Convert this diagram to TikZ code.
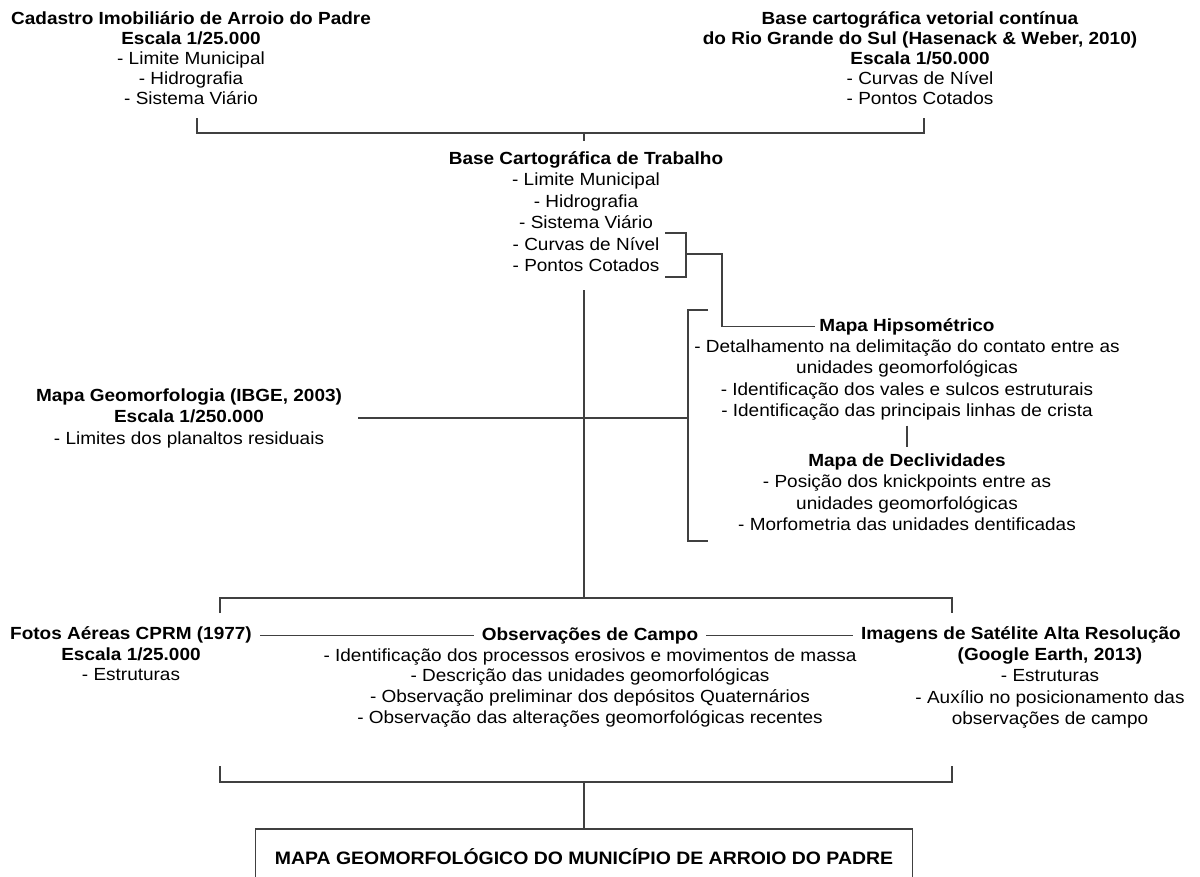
\documentclass[tikz,border=0pt]{standalone}
\usepackage{fontspec}
\setmainfont{Liberation Sans}[FakeStretch=1.08]

\begin{document}
\begin{tikzpicture}[x=0.025cm,y=-0.025cm,
  liga/.style={draw=black!75,line width=0.04cm},
  bloco/.style={align=center,anchor=north,inner sep=0pt,font=\fontsize{12.5}{15.3}\selectfont},
  topo/.style={bloco,font=\fontsize{12.5}{14.2}\selectfont},
  titulo/.style={bloco,font=\fontsize{12.5}{15.3}\selectfont\bfseries}]
  \useasboundingbox (0,0) rectangle (1200,876);

  % fontes de dados
  \node[topo] (cad) at (191,11) {\textbf{Cadastro Imobiliário de Arroio do Padre}\\\textbf{Escala 1/25.000}\\- Limite Municipal\\- Hidrografia\\- Sistema Viário};
  \node[topo] (rs) at (920,11) {\textbf{Base cartográfica vetorial contínua}\\\textbf{do Rio Grande do Sul (Hasenack \& Weber, 2010)}\\\textbf{Escala 1/50.000}\\- Curvas de Nível\\- Pontos Cotados};
  \node[bloco] (base) at (586,151) {\textbf{Base Cartográfica de Trabalho}\\- Limite Municipal\\- Hidrografia\\- Sistema Viário\\- Curvas de Nível\\- Pontos Cotados};

  \node[titulo] (hipso) at (907,318) {Mapa Hipsométrico};
  \node[bloco] (hipsoitens) at (907,339) {- Detalhamento na delimitação do contato entre as\\unidades geomorfológicas\\- Identificação dos vales e sulcos estruturais\\- Identificação das principais linhas de crista};
  \node[bloco] (geo) at (189,388) {\textbf{Mapa Geomorfologia (IBGE, 2003)}\\\textbf{Escala 1/250.000}\\- Limites dos planaltos residuais};
  \node[bloco] (decliv) at (907,453) {\textbf{Mapa de Declividades}\\- Posição dos knickpoints entre as\\unidades geomorfológicas\\- Morfometria das unidades dentificadas};

  \node[titulo] (fotos) at (131,626) {Fotos Aéreas CPRM (1977)\\Escala 1/25.000};
  \node[bloco] (fotositens) at (131,668) {- Estruturas};
  \node[titulo] (obs) at (590,627) {Observações de Campo};
  \node[bloco,font=\fontsize{12.5}{14.9}\selectfont] (obsitens) at (590,648) {- Identificação dos processos erosivos e movimentos de massa\\- Descrição das unidades geomorfológicas\\- Observação preliminar dos depósitos Quaternários\\- Observação das alterações geomorfológicas recentes};
  \node[titulo] (img) at (1021,626) {Imagens de Satélite Alta Resolução};
  \node[bloco] (imgitens) at (1050,647) {\textbf{(Google Earth, 2013)}\\- Estruturas\\- Auxílio no posicionamento das\\observações de campo};

  \node[titulo,liga,minimum width=16.425cm,minimum height=1.4cm,font=\fontsize{12.8}{14}\selectfont\bfseries] (mapa) at (584,828) {MAPA GEOMORFOLÓGICO DO MUNICÍPIO DE ARROIO DO PADRE};

  % chaves e ligacoes
  \coordinate (jtopo) at (584,133);
  \coordinate (cadpe) at (197,118);
  \coordinate (rspe) at (924,118);
  \draw[liga] (cadpe) |- (jtopo) -| (rspe);
  \draw[liga,shorten >=0.25cm] (jtopo) -- (jtopo |- base.north);

  \coordinate (chA) at (665,233);
  \coordinate (chB) at (665,277);
  \coordinate (chM) at (686,254);
  \draw[liga] (chA) -- (chA -| chM) -- (chB -| chM) -- (chB);
  \draw[liga,shorten >=0.1cm] (chM) -- ++(36,0) |- (hipso.west);

  \coordinate (gA) at (708,310);
  \coordinate (gB) at (708,541);
  \coordinate (gX) at (688,0);
  \draw[liga] (gA) -- (gA -| gX) -- (gB -| gX) -- (gB);
  \draw[liga,shorten <=0.4cm] (geo.east) -- (geo.east -| gX);
  \draw[liga,shorten <=0.125cm,shorten >=0.15cm] (hipsoitens.south) -- (decliv.north);

  \coordinate (jmeio) at (584,598);
  \draw[liga,shorten <=0.45cm] (jtopo |- base.south) -- (jmeio);
  \coordinate (fotospe) at (220,613);
  \coordinate (imgpe) at (952,613);
  \draw[liga] (fotospe) |- (jmeio) -| (imgpe);

  \draw[liga,shorten <=0.2cm,shorten >=0.2cm] (obs.west -| fotos.east) -- (obs.west);
  \draw[liga,shorten <=0.2cm,shorten >=0.2cm] (obs.east) -- (obs.east -| img.west);

  \coordinate (jbaixo) at (584,782);
  \coordinate (fotosfim) at (220,766);
  \coordinate (imgfim) at (952,766);
  \draw[liga] (fotosfim) |- (jbaixo) -| (imgfim);
  \draw[liga] (jbaixo) -- (mapa.north);
\end{tikzpicture}
\end{document}
